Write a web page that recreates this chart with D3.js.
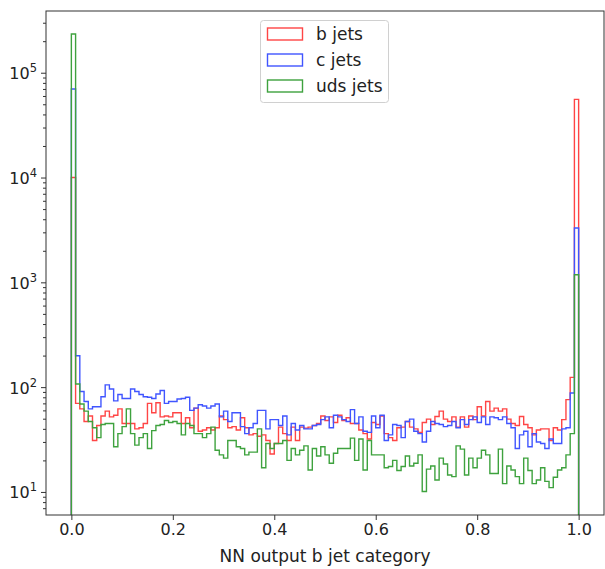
<!DOCTYPE html>
<html>
<head>
<meta charset="utf-8">
<script src="https://cdn.jsdelivr.net/npm/d3@7"></script>
<style>
  html, body { margin: 0; padding: 0; background: #fff; }
  svg { display: block; font-family: "DejaVu Sans", sans-serif; }
</style>
</head>
<body>
<svg id="chart" width="605" height="569"></svg>
<script>
// 120 equal-width bins over [0, 1]; counts per jet flavour (log-scale histogram).
const nBins = 120;
const seriesNames = ["b jets", "c jets", "uds jets"];
const seriesColors = ["#ff4545", "#4055ff", "#3ea23e"];

const bJets = [
  10000, 70, 62, 47, 53, 31, 43, 53, 59, 52, 54, 62, 45, 45, 45, 40, 41, 45, 70, 57,
  71, 52, 53, 52, 57, 57, 45, 51, 41, 63, 38, 39, 41, 39, 41, 53, 49, 41, 42, 39,
  51, 41, 35, 36, 34, 35, 31, 23, 29, 41.5, 36, 31, 41.5, 31, 41.5, 40.6, 41.5, 43, 45, 53,
  48, 52, 46, 54, 48, 51, 45, 45, 39, 36, 32, 46, 44, 53, 36, 33, 31, 41, 41.5, 47,
  41.5, 40, 37, 46, 49.5, 44, 52.5, 59, 49.5, 47, 52, 41.5, 52, 41.5, 53, 49, 65, 53, 73, 59,
  63, 59, 62, 49.5, 45, 43, 52.5, 44, 41, 35, 39, 40, 40, 31, 41, 39, 49, 76, 124, 55700
];

const cJets = [
  70000, 199, 91, 73, 62, 65, 65, 81, 105, 96, 74, 85, 78, 78, 96, 91, 85, 81, 80, 78,
  86, 93, 70, 73, 73, 77, 78, 80, 60, 63, 68, 66, 63, 66, 69, 52, 59, 47, 57, 57,
  42, 36, 41, 45, 60, 60, 40, 49, 49, 43, 53, 35, 45, 39, 43, 40, 40, 43, 44, 49,
  52, 41, 54, 52, 49, 47, 61, 45, 52, 38, 37, 53, 41, 54, 31, 35, 44, 43, 33, 47,
  49.5, 38, 36, 30, 38, 47, 45, 44, 42, 43, 47, 41, 49, 44, 49, 52, 46, 52, 44, 52,
  51, 49, 52, 45, 41, 26, 35, 38, 27, 36, 30, 29, 26, 32, 29, 29, 40, 41, 88, 3300
];

const udsJets = [
  234000, 107, 69, 59, 47, 41, 33, 44, 45, 45, 27, 36, 42, 62, 36, 28, 33, 36, 26, 38.5,
  43, 44, 48, 46, 47, 45, 35, 45, 43, 36, 36, 33, 36, 41.5, 25, 22.6, 21, 31, 31, 27,
  26, 22.6, 24, 24, 40, 17, 29, 26, 29, 29, 31, 20, 26, 22.6, 25, 27.5, 16.2, 26, 22, 27,
  22.6, 18.8, 23.4, 26, 26, 26, 32.6, 20, 32, 16.2, 31, 22.6, 22.6, 22.6, 17, 17.5, 20, 16, 17.5, 22,
  17.7, 18.8, 22.6, 10.1, 16.5, 17.7, 13, 21, 18.5, 14.5, 14, 27.5, 25.6, 14.5, 21, 17, 21, 25, 22.6, 15,
  15, 25.6, 12, 17.7, 16.2, 14, 12, 21, 16, 12, 13, 17, 12.6, 11, 13.8, 16.2, 17, 22.6, 36, 1180
];

const xTicks = [0.0, 0.2, 0.4, 0.6, 0.8, 1.0];
const yMajorExps = [1, 2, 3, 4, 5];
const xLabel = "NN output b jet category";

const seriesData = [bJets, cJets, udsJets];

const svg = d3.select("#chart");
const plot = { left: 46, right: 604, top: 11, bottom: 515 };

const x = d3.scaleLinear().domain([-0.05, 1.05]).range([plot.left, plot.right]);
const y = d3.scaleLog().domain([Math.pow(10, 0.78), Math.pow(10, 5.589)]).range([plot.bottom, plot.top]);

svg.append("defs").append("clipPath").attr("id", "plotClip")
  .append("rect")
  .attr("x", plot.left).attr("y", plot.top)
  .attr("width", plot.right - plot.left).attr("height", plot.bottom - plot.top);

// Step outlines: rise from the floor at x=0, walk across the bins, drop back at x=1.
function stepPath(values) {
  const pts = [[x(0), plot.bottom + 5]];
  values.forEach((v, i) => {
    const x0 = x(i / nBins), x1 = x((i + 1) / nBins);
    pts.push([x0, y(v)], [x1, y(v)]);
  });
  pts.push([x(1), plot.bottom + 5]);
  return d3.line()(pts);
}

const marks = svg.append("g").attr("clip-path", "url(#plotClip)");
seriesData.forEach((vals, k) => {
  marks.append("path")
    .attr("d", stepPath(vals))
    .attr("fill", "none")
    .attr("stroke", seriesColors[k])
    .attr("stroke-width", 1.4)
    .attr("stroke-linejoin", "miter");
});

// Axes
const xAxis = d3.axisBottom(x).tickValues(xTicks).tickSize(5).tickPadding(4)
  .tickFormat(d3.format(".1f"));
const gx = svg.append("g").attr("transform", `translate(0,${plot.bottom})`).call(xAxis);
gx.select(".domain").remove();
gx.selectAll("text").attr("font-size", 16).attr("fill", "#222").attr("font-family", "DejaVu Sans");
gx.selectAll("line").attr("stroke", "#333");

// y axis: major ticks at decades, minor ticks 2..9
const yDom = y.domain();
const minorVals = [];
for (let e = 0; e <= 5; e++) {
  for (let m = 2; m <= 9; m++) {
    const v = m * Math.pow(10, e);
    if (v >= yDom[0] && v <= yDom[1]) minorVals.push(v);
  }
}
const gyMinor = svg.append("g").attr("transform", `translate(${plot.left},0)`)
  .call(d3.axisLeft(y).tickValues(minorVals).tickSize(3).tickFormat(""));
gyMinor.select(".domain").remove();
gyMinor.selectAll("line").attr("stroke", "#333");

const gy = svg.append("g").attr("transform", `translate(${plot.left},0)`)
  .call(d3.axisLeft(y).tickValues(yMajorExps.map(e => Math.pow(10, e))).tickSize(5).tickPadding(4).tickFormat(""));
gy.select(".domain").remove();
gy.selectAll("line").attr("stroke", "#333");
gy.selectAll(".tick").each(function(d) {
  const t = d3.select(this).append("text")
    .attr("x", -9).attr("y", 6)
    .attr("text-anchor", "end")
    .attr("fill", "#222")
    .attr("font-size", 16)
    .attr("font-family", "DejaVu Sans");
  t.append("tspan").text("10");
  t.append("tspan").attr("dy", -7).attr("font-size", 11.5).text(Math.round(Math.log10(d)));
});

// Frame
svg.append("rect")
  .attr("x", plot.left).attr("y", plot.top)
  .attr("width", plot.right - plot.left).attr("height", plot.bottom - plot.top)
  .attr("fill", "none").attr("stroke", "#333").attr("stroke-width", 1);

// x label
svg.append("text")
  .attr("x", (plot.left + plot.right) / 2).attr("y", 562)
  .attr("text-anchor", "middle")
  .attr("font-size", 17)
  .attr("fill", "#222")
  .text(xLabel);

// Legend
const lg = svg.append("g");
lg.append("rect")
  .attr("x", 260.5).attr("y", 20.5).attr("width", 128).attr("height", 82)
  .attr("rx", 3).attr("fill", "#fff").attr("fill-opacity", 0.8)
  .attr("stroke", "#d0d0d0");
seriesNames.forEach((name, k) => {
  const cy = 34 + k * 26;
  lg.append("rect")
    .attr("x", 267.5).attr("y", cy - 6).attr("width", 35).attr("height", 12)
    .attr("fill", "none").attr("stroke", seriesColors[k]).attr("stroke-width", 1.4);
  lg.append("text")
    .attr("x", 316).attr("y", cy + 6)
    .attr("font-size", 17)
    .attr("fill", "#222")
    .text(name);
});
</script>
</body>
</html>
